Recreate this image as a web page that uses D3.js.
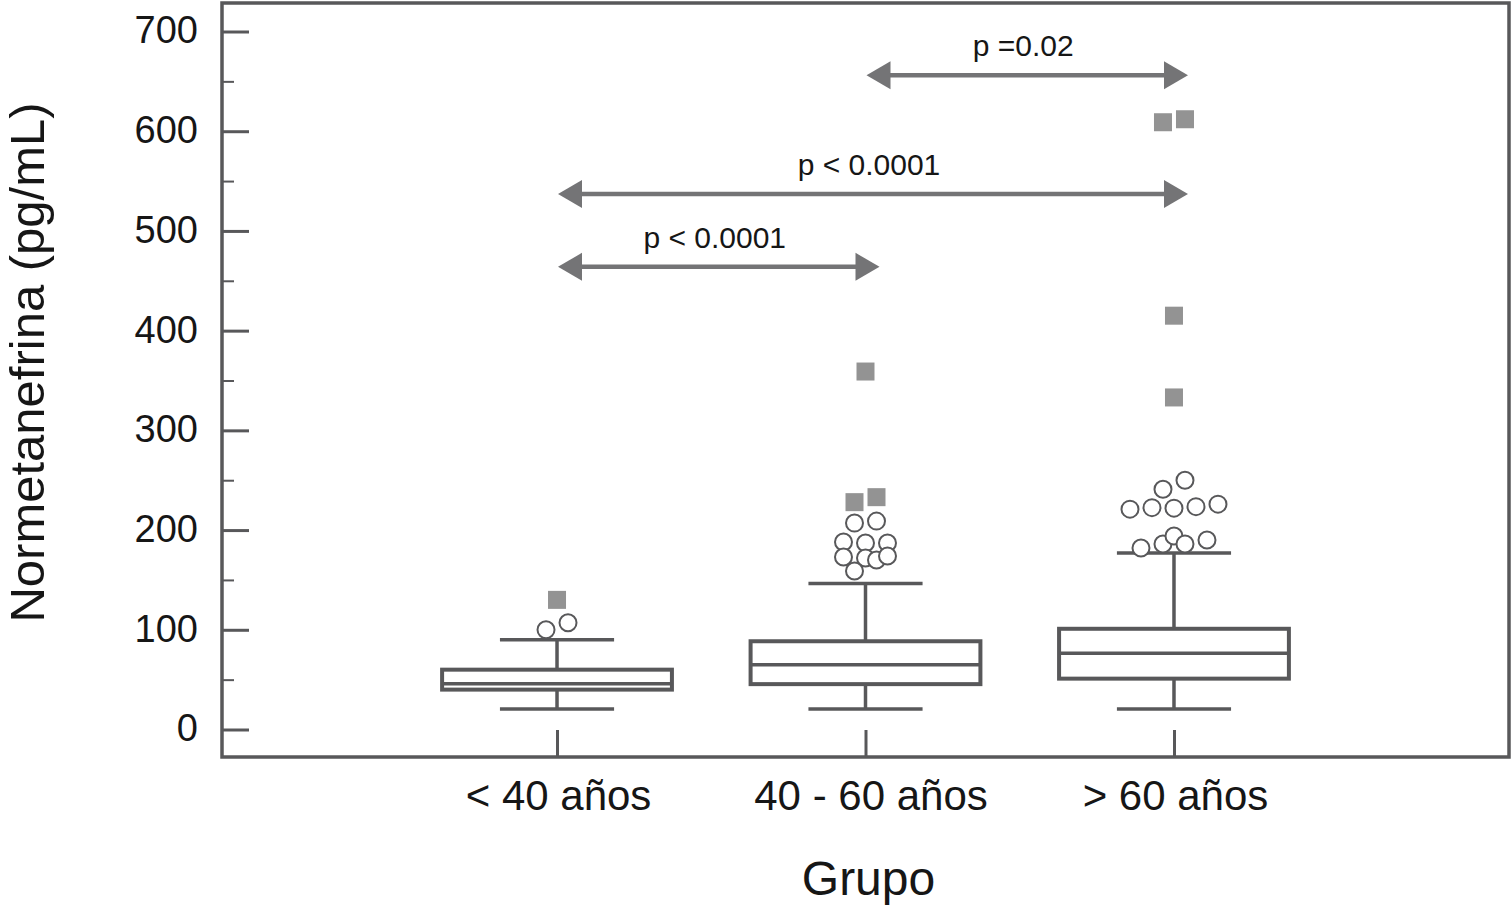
<!DOCTYPE html>
<html>
<head>
<meta charset="utf-8">
<script src="https://cdn.jsdelivr.net/npm/d3@7/dist/d3.min.js"></script>
<style>
    html, body { margin: 0; padding: 0; background: #fff; }
    svg { display: block; font-family: "Liberation Sans", Arial, Helvetica, sans-serif; }
</style>
</head>
<body>
<div id="chart"></div>
<script>
// datos
const categories = ['< 40 años', '40 - 60 años', '> 60 años'];
const whiskerLow = [20.5, 20.5, 20.5];
const q1 = [40, 45.5, 51];
const median = [46, 65, 76.5];
const q3 = [60, 88.5, 101];
const whiskerHigh = [90, 146.5, 177];

// valores atípicos: [grupo, valor, hueco horizontal]
const circleOutliers = [
    [0, 100, -1], [0, 107, 1],
    [1, 207, -1], [1, 209, 1], [1, 188, -2], [1, 187, 0], [1, 187, 2],
    [1, 173, -2], [1, 172, 0], [1, 170, 1], [1, 174, 2], [1, 159, -1],
    [2, 250, 1], [2, 241, -1], [2, 221, -4], [2, 222.5, -2], [2, 222, 0],
    [2, 223.5, 2], [2, 226, 4], [2, 182, -3], [2, 186, -1], [2, 194, 0],
    [2, 186, 1], [2, 190, 3]
];
const squareOutliers = [
    [0, 130, 0],
    [1, 228, -1], [1, 233, 1], [1, 359, 0],
    [2, 609, -1], [2, 612, 1], [2, 415, 0], [2, 333, 0]
];

// comparaciones: [desde, hasta, nivel, etiqueta]
const comparisons = [
    [1, 2, 656, 'p =0.02'],
    [0, 2, 537, 'p < 0.0001'],
    [0, 1, 464, 'p < 0.0001']
];

const yTicks = [0, 100, 200, 300, 400, 500, 600, 700];
const yMinorTicks = [50, 150, 250, 350, 450, 550, 650];

const width = 1512, height = 906;
const frame = {left: 222, right: 1509, top: 3, bottom: 757};
const lineColor = '#58585a';
const arrowColor = '#747476';
const textColor = '#161616';
const slot = 11;

const svg = d3.select('#chart').append('svg')
    .attr('width', width)
    .attr('height', height);

const x = d3.scalePoint()
    .domain(categories)
    .range([frame.left, frame.right])
    .padding(1.086);

const y = d3.scaleLinear()
    .domain([0, 700])
    .range([729.5, 31.5]);

const step = x.step();
const boxW = step * 0.745;
const capW = step * 0.37;

// marco
svg.append('rect')
    .attr('x', frame.left)
    .attr('y', frame.top)
    .attr('width', frame.right - frame.left)
    .attr('height', frame.bottom - frame.top)
    .attr('fill', 'none')
    .attr('stroke', lineColor)
    .attr('stroke-width', 3.5);

// eje Y
const yAxis = svg.append('g')
    .attr('transform', `translate(${frame.left},0)`)
    .call(d3.axisLeft(y).tickValues(yTicks).tickSizeInner(-27).tickSizeOuter(0).tickPadding(24));
yAxis.select('.domain').remove();
yAxis.selectAll('line').attr('stroke', lineColor).attr('stroke-width', 3);
yAxis.selectAll('text').attr('fill', textColor).style('font-size', '38px')
    .attr('dy', '0.3em');

const yMinor = svg.append('g')
    .attr('transform', `translate(${frame.left},0)`)
    .call(d3.axisLeft(y).tickValues(yMinorTicks).tickSizeInner(-12).tickSizeOuter(0).tickFormat(''));
yMinor.select('.domain').remove();
yMinor.selectAll('line').attr('stroke', lineColor).attr('stroke-width', 2);

// eje X
const xAxis = svg.append('g')
    .attr('transform', `translate(0,${frame.bottom})`)
    .call(d3.axisBottom(x).tickSizeInner(-27).tickSizeOuter(0).tickPadding(23));
xAxis.select('.domain').remove();
xAxis.selectAll('line').attr('stroke', lineColor).attr('stroke-width', 3);
xAxis.selectAll('text').attr('fill', textColor).style('font-size', '42px')
    .attr('dx', (d, i) => i === 1 ? 5 : 1);

// títulos
svg.append('text')
    .attr('x', x(categories[1]) + 3)
    .attr('y', 895)
    .attr('text-anchor', 'middle')
    .attr('fill', textColor)
    .style('font-size', '48px')
    .text('Grupo');

svg.append('text')
    .attr('transform', `translate(44,${(y(0) + y(700)) / 2 - 18}) rotate(-90)`)
    .attr('text-anchor', 'middle')
    .attr('fill', textColor)
    .style('font-size', '49px')
    .text('Normetanefrina (pg/mL)');

// cajas
const boxes = categories.map((c, i) => ({
    c, lo: whiskerLow[i], q1: q1[i], med: median[i], q3: q3[i], hi: whiskerHigh[i]
}));

const boxG = svg.append('g').selectAll('g')
    .data(boxes)
    .join('g')
    .attr('stroke', lineColor)
    .attr('fill', 'none');

boxG.append('line')
    .attr('x1', d => x(d.c)).attr('x2', d => x(d.c))
    .attr('y1', d => y(d.q3)).attr('y2', d => y(d.hi))
    .attr('stroke-width', 3.5);
boxG.append('line')
    .attr('x1', d => x(d.c)).attr('x2', d => x(d.c))
    .attr('y1', d => y(d.lo)).attr('y2', d => y(d.q1))
    .attr('stroke-width', 3.5);
boxG.selectAll('.cap')
    .data(d => [[d.c, d.lo], [d.c, d.hi]])
    .join('line')
    .attr('class', 'cap')
    .attr('x1', d => x(d[0]) - capW / 2).attr('x2', d => x(d[0]) + capW / 2)
    .attr('y1', d => y(d[1])).attr('y2', d => y(d[1]))
    .attr('stroke-width', 3.5);
boxG.append('rect')
    .attr('x', d => x(d.c) - boxW / 2)
    .attr('width', boxW)
    .attr('y', d => y(d.q3))
    .attr('height', d => y(d.q1) - y(d.q3))
    .attr('fill', '#fff')
    .attr('stroke-width', 4);
boxG.append('line')
    .attr('x1', d => x(d.c) - boxW / 2).attr('x2', d => x(d.c) + boxW / 2)
    .attr('y1', d => y(d.med)).attr('y2', d => y(d.med))
    .attr('stroke-width', 3.5);

// atípicos
svg.append('g').selectAll('circle')
    .data(circleOutliers)
    .join('circle')
    .attr('cx', d => x(categories[d[0]]) + d[2] * slot)
    .attr('cy', d => y(d[1]))
    .attr('r', 8.5)
    .attr('fill', '#fff')
    .attr('stroke', lineColor)
    .attr('stroke-width', 2);

const sq = 18;
svg.append('g').selectAll('rect')
    .data(squareOutliers)
    .join('rect')
    .attr('x', d => x(categories[d[0]]) + d[2] * slot - sq / 2)
    .attr('y', d => y(d[1]) - sq / 2)
    .attr('width', sq)
    .attr('height', sq)
    .attr('fill', '#939393');

// flechas de comparación
const headL = 24, headH = 14, overshoot = 14;
const cmpG = svg.append('g').selectAll('g')
    .data(comparisons)
    .join('g');

cmpG.each(function (d) {
    const g = d3.select(this);
    const x0 = x(categories[d[0]]) + 1;
    const x1 = x(categories[d[1]]) + overshoot;
    const yy = y(d[2]);
    g.append('line')
        .attr('x1', x0 + headL - 2).attr('x2', x1 - headL + 2)
        .attr('y1', yy).attr('y2', yy)
        .attr('stroke', arrowColor)
        .attr('stroke-width', 4.5);
    g.append('path')
        .attr('d', `M${x0},${yy}L${x0 + headL},${yy - headH}L${x0 + headL},${yy + headH}Z`)
        .attr('fill', arrowColor);
    g.append('path')
        .attr('d', `M${x1},${yy}L${x1 - headL},${yy - headH}L${x1 - headL},${yy + headH}Z`)
        .attr('fill', arrowColor);
    g.append('text')
        .attr('x', (x0 + x1) / 2 - 4)
        .attr('y', yy - 19)
        .attr('text-anchor', 'middle')
        .attr('fill', textColor)
        .style('font-size', '30px')
        .text(d[3]);
});
</script>
</body>
</html>
